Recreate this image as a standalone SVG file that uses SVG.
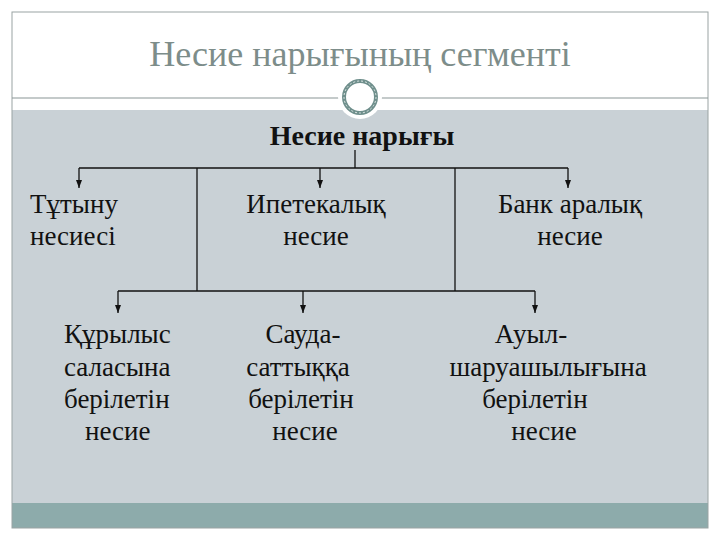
<svg xmlns="http://www.w3.org/2000/svg" width="720" height="540" viewBox="0 0 720 540">
<style>
.t{font-family:'Liberation Serif','DejaVu Serif',serif;font-size:27px;fill:#111}
.c{text-anchor:middle}
.ln{stroke:#111;stroke-width:1.3;fill:none}
</style>
<defs>
<marker id="ah" viewBox="0 0 8 6" refX="8" refY="3" markerWidth="8" markerHeight="6" orient="auto" markerUnits="userSpaceOnUse">
<path d="M0,0 L8,3 L0,6 Z" fill="#111"/>
</marker>
</defs>
<rect x="0" y="0" width="720" height="540" fill="#fff"/>
<rect x="12" y="110" width="696" height="394" fill="#c9d1d6"/>
<rect x="12" y="503" width="696" height="25" fill="#8dabab"/>
<rect x="12" y="12" width="696" height="516" fill="none" stroke="#9aa3a3" stroke-width="1"/>
<line x1="12" y1="98" x2="708" y2="98" stroke="#8a9696" stroke-width="1.2"/>
<text x="360" y="66" text-anchor="middle" font-family="Liberation Serif, DejaVu Serif, serif" font-size="36" fill="#7d8d8a">Несие нарығының сегменті</text>
<g id="ornament">
<circle cx="360" cy="97" r="22" fill="#fff"/>
<circle cx="360" cy="97" r="16" fill="none" stroke="#6f8f8c" stroke-width="4"/>
<circle cx="360" cy="97" r="16" fill="none" stroke="#dfe8e6" stroke-width="1" stroke-dasharray="2 2"/>
</g>
<g id="connectors">
<path class="ln" d="M355,150 V168"/>
<path class="ln" d="M79,168 H568"/>
<path class="ln" d="M79,168 V188" marker-end="url(#ah)"/>
<path class="ln" d="M320,168 V188" marker-end="url(#ah)"/>
<path class="ln" d="M568,168 V188" marker-end="url(#ah)"/>
<path class="ln" d="M197,168 V291"/>
<path class="ln" d="M455,168 V291"/>
<path class="ln" d="M118,291 H535"/>
<path class="ln" d="M118,291 V313" marker-end="url(#ah)"/>
<path class="ln" d="M303,291 V313" marker-end="url(#ah)"/>
<path class="ln" d="M535,291 V313" marker-end="url(#ah)"/>
</g>
<g id="root"><text x="362" y="145" text-anchor="middle" font-family="Liberation Serif, DejaVu Serif, serif" font-size="28" font-weight="bold" fill="#111">Несие нарығы</text></g>
<g font-family="Liberation Serif, DejaVu Serif, serif" font-size="27" fill="#111">
<g id="n1"><text x="30" y="213">Тұтыну</text><text x="30" y="245">несиесі</text></g>
<g id="n2" text-anchor="middle"><text x="316" y="213">Ипетекалық</text><text x="316" y="245">несие</text></g>
<g id="n3" text-anchor="middle"><text x="570" y="213">Банк аралық</text><text x="570" y="245">несие</text></g>
<g id="n4"><text x="64" y="343">Құрылыс</text><text x="64" y="376">саласына</text><text x="64" y="408">берілетін</text><text x="85" y="440">несие</text></g>
<g id="n5" text-anchor="middle"><text x="303" y="343">Сауда-</text><text x="298" y="376">саттыққа</text><text x="301" y="408">берілетін</text><text x="305" y="440">несие</text></g>
<g id="n6" text-anchor="middle"><text x="531" y="343">Ауыл-</text><text x="548" y="376">шаруашылығына</text><text x="535" y="408">берілетін</text><text x="544" y="440">несие</text></g>
</g>
</svg>
